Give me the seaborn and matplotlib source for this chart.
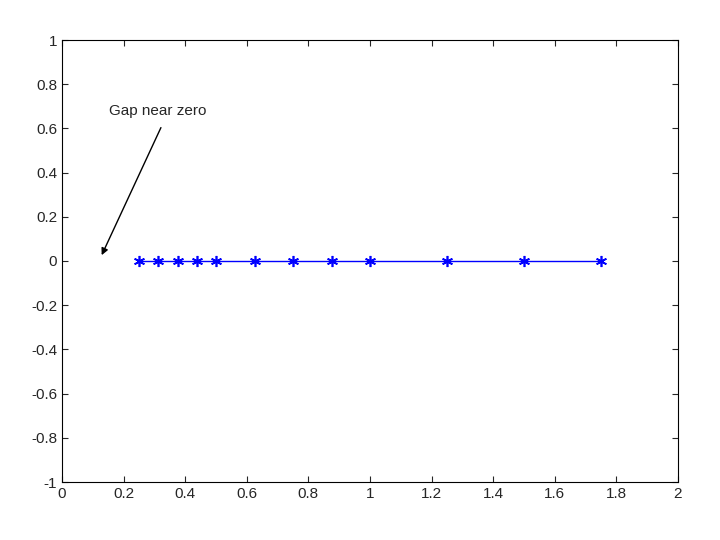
import matplotlib
matplotlib.use("Agg")
import matplotlib.pyplot as plt
import seaborn as sns
import pandas as pd

x_vals = [0.25, 0.3125, 0.375, 0.4375, 0.5, 0.625, 0.75, 0.875, 1.0, 1.25, 1.5, 1.75]
y_vals = [0] * len(x_vals)
x_ticks = [0, 0.2, 0.4, 0.6, 0.8, 1, 1.2, 1.4, 1.6, 1.8, 2]
y_ticks = [-1, -0.8, -0.6, -0.4, -0.2, 0, 0.2, 0.4, 0.6, 0.8, 1]

sns.set_style("white")
plt.rcParams['font.family'] = ['Liberation Sans', 'DejaVu Sans']

df = pd.DataFrame({"x": x_vals, "y": y_vals})
fig = plt.figure(figsize=(7.2, 5.4), dpi=100)
ax = fig.add_axes([62/720, 1-482/540, (678-62)/720, (482-40)/540])
sns.lineplot(data=df, x="x", y="y", ax=ax, color="#0000ff", linewidth=1,
             marker=(6, 2, 0), markersize=8, markeredgecolor="#0000ff",
             markeredgewidth=1.2)
ax.set_xlim(0, 2)
ax.set_ylim(-1, 1)
ax.set_xticks(x_ticks)
ax.set_xticklabels([f"{v:g}" for v in x_ticks])
ax.set_yticks(y_ticks)
ax.set_yticklabels([f"{v:g}" for v in y_ticks])
ax.set_xlabel("")
ax.set_ylabel("")
ax.tick_params(direction="in", length=4, labelsize=11, top=True, right=True,
               bottom=True, left=True)
for s in ax.spines.values():
    s.set_color("black")
    s.set_linewidth(0.8)
ax.annotate("", xy=(0.125, 0.015), xytext=(0.325, 0.615),
            arrowprops=dict(arrowstyle="-|>", color="black", lw=1))
ax.text(0.153, 0.645, "Gap near zero", fontsize=11, ha="left", va="bottom")
fig.savefig("out.png", dpi=100)
